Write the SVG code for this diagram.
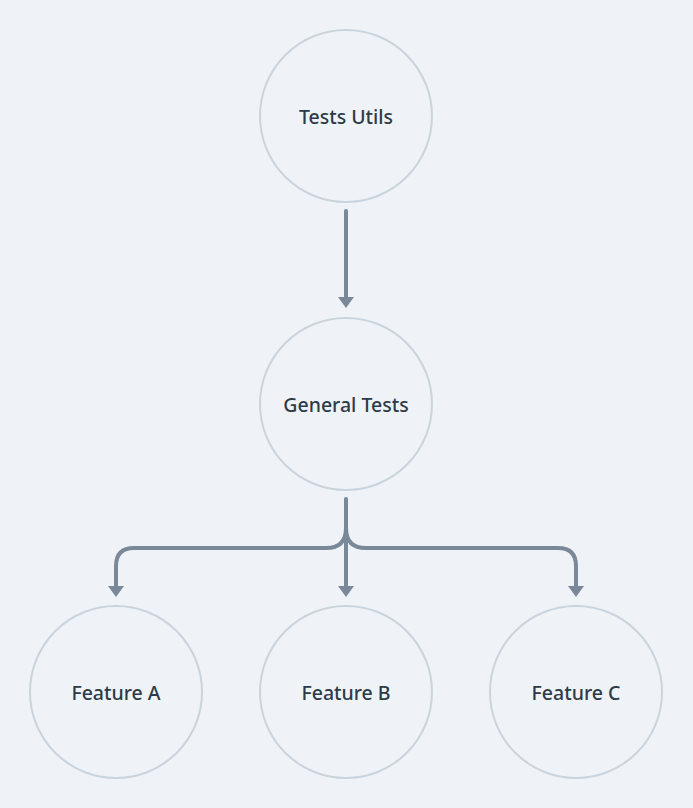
<svg xmlns="http://www.w3.org/2000/svg" width="693" height="808" viewBox="0 0 693 808">
<style>
.node circle{fill:#eff3f7;stroke:#c9d4de;stroke-width:2}
.node text{font-family:"Noto Sans","DejaVu Sans",sans-serif;font-size:19.5px;font-weight:500;fill:#2d3a48;text-anchor:middle;dominant-baseline:central}
.edge{fill:none;stroke:#7a8999;stroke-width:4;stroke-linecap:round}
</style>
<defs>
<marker id="ah" markerUnits="userSpaceOnUse" markerWidth="12" markerHeight="18" refX="0" refY="0" orient="auto" viewBox="0 -9 12 18">
<path d="M0,-8 L11,0 L0,8 Z" fill="#7a8999"/>
</marker>
</defs>
<rect width="693" height="808" fill="#eff3f7"/>
<g id="connectors">
<path class="edge" d="M346 211 V297" marker-end="url(#ah)"/>
<path class="edge" d="M346 499 V586" marker-end="url(#ah)"/>
<path class="edge" d="M346 528 Q346 548 326 548 H134 Q116 548 116 566 V586" marker-end="url(#ah)"/>
<path class="edge" d="M346 528 Q346 548 366 548 H558 Q576 548 576 566 V586" marker-end="url(#ah)"/>
</g>
<g id="tests-utils" class="node"><circle cx="346" cy="116" r="86"/><text x="346" y="116">Tests Utils</text></g>
<g id="general-tests" class="node"><circle cx="346" cy="404" r="86"/><text x="346" y="404">General Tests</text></g>
<g id="feature-a" class="node"><circle cx="116" cy="692" r="86"/><text x="116" y="692">Feature A</text></g>
<g id="feature-b" class="node"><circle cx="346" cy="692" r="86"/><text x="346" y="692">Feature B</text></g>
<g id="feature-c" class="node"><circle cx="576" cy="692" r="86"/><text x="576" y="692">Feature C</text></g>
</svg>
